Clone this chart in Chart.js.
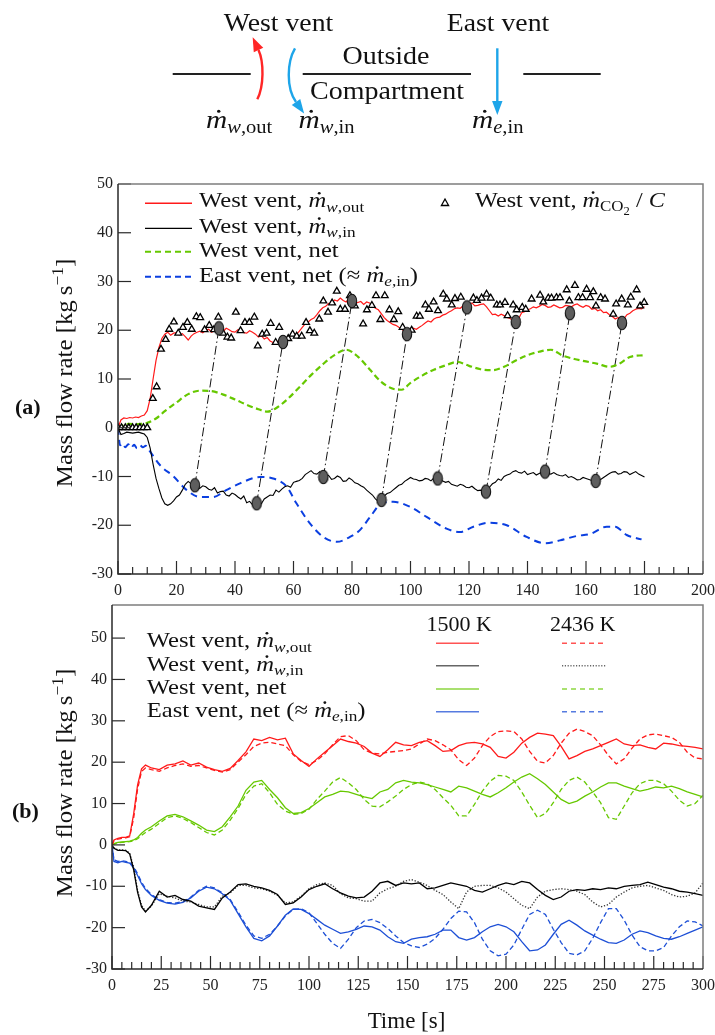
<!DOCTYPE html>
<html>
<head>
<meta charset="utf-8">
<script src="https://cdn.jsdelivr.net/npm/chart.js@4.4.1/dist/chart.umd.min.js"></script>
<style>
  html, body { margin: 0; padding: 0; background: #fff; }
  #wrap { position: relative; width: 715px; height: 1035px; overflow: hidden; background: #fff; }
  #wrap canvas { position: absolute; left: 0; }
  #cA { top: 0; }
  #cB { top: 600px; }
</style>
</head>
<body>
<div id="wrap">
  <canvas id="cA" width="715" height="600"></canvas>
  <canvas id="cB" width="715" height="435"></canvas>
</div>
<script>
// ---------- Panel (a): measured vent flows, 0-180 s (1 s samples) ----------
const tA = [0,1,2,3,4,5,6,7,8,9,10,11,12,13,14,15,16,17,18,19,
  20,21,22,23,24,25,26,27,28,29,30,31,32,33,34,35,36,37,38,39,
  40,41,42,43,44,45,46,47,48,49,50,51,52,53,54,55,56,57,58,59,
  60,61,62,63,64,65,66,67,68,69,70,71,72,73,74,75,76,77,78,79,
  80,81,82,83,84,85,86,87,88,89,90,91,92,93,94,95,96,97,98,99,
  100,101,102,103,104,105,106,107,108,109,110,111,112,113,114,115,116,117,118,119,
  120,121,122,123,124,125,126,127,128,129,130,131,132,133,134,135,136,137,138,139,
  140,141,142,143,144,145,146,147,148,149,150,151,152,153,154,155,156,157,158,159,
  160,161,162,163,164,165,166,167,168,169,170,171,172,173,174,175,176,177,178,179,
  180];

const westOutA = [0,1.6,2.0,1.9,2.1,2.0,2.2,2.1,2.4,2.6,3.5,6.0,10.0,13.8,16.5,18.3,19.2,19.6,19.0,19.4,
  19.5,19.0,19.3,18.7,18.0,18.8,19.3,19.6,19.8,19.5,20.0,20.2,19.6,19.9,20.3,20.0,19.8,20.4,20.1,19.7,
  19.6,20.1,19.9,19.5,19.4,19.9,19.6,19.2,18.6,18.9,18.2,18.5,17.8,17.5,17.4,17.9,17.6,18.3,18.6,18.9,
  19.3,19.1,19.8,20.6,21.3,21.7,22.2,22.5,23.2,24.0,24.6,24.9,25.5,25.3,26.2,26.0,26.6,26.1,25.8,26.5,
  26.2,25.5,25.7,25.9,25.3,25.8,25.6,25.0,24.5,24.2,23.4,22.6,22.0,21.6,21.2,21.0,20.6,20.3,19.6,19.9,
  19.8,20.4,20.2,20.6,21.0,21.5,21.9,21.7,22.3,22.6,22.7,23.1,23.3,23.7,24.0,24.4,24.6,24.5,25.0,25.2,
  25.3,25.6,25.0,25.1,25.3,25.4,24.8,24.0,23.2,23.3,22.9,23.3,23.0,22.6,22.4,22.1,22.0,22.4,23.6,23.8,
  24.2,24.4,24.8,24.6,24.9,25.3,25.1,24.7,24.8,25.2,24.9,24.6,24.7,25.1,25.0,24.8,25.2,25.4,25.0,24.7,
  25.1,24.9,24.3,24.5,24.0,24.2,23.6,23.7,23.2,22.8,22.3,22.6,21.9,22.4,23.2,23.5,24.0,24.3,24.5,24.4,
  24.8];

const westInA = [0,-1.4,-1.2,-0.9,-1.0,-1.1,-1.0,-0.9,-1.1,-1.3,-2.0,-4.2,-7.5,-10.4,-12.5,-14.4,-15.6,-15.9,-15.6,-15.0,
  -14.2,-13.8,-12.8,-11.6,-11.0,-11.5,-11.8,-12.5,-12.4,-11.9,-12.1,-12.6,-12.8,-12.3,-13.4,-13.1,-13.0,-13.8,-14.0,-13.4,
  -13.7,-14.2,-14.6,-14.0,-15.4,-15.1,-15.8,-15.5,-15.2,-15.6,-14.6,-14.2,-13.8,-13.9,-12.8,-13.2,-12.6,-12.1,-11.9,-12.2,
  -11.2,-11.0,-10.8,-10.4,-9.6,-9.2,-8.8,-9.4,-9.5,-9.0,-10.1,-9.6,-9.8,-10.6,-10.4,-9.9,-10.2,-11.0,-10.9,-10.3,
  -10.7,-11.3,-11.5,-11.9,-12.2,-12.8,-13.3,-13.8,-14.6,-15.1,-14.8,-14.0,-13.5,-13.3,-12.8,-12.3,-11.8,-11.6,-11.0,-10.6,
  -10.2,-10.5,-10.6,-10.9,-10.8,-10.4,-10.5,-10.9,-10.3,-10.4,-10.6,-10.9,-11.2,-11.0,-11.6,-11.8,-12.0,-11.6,-11.8,-12.2,
  -12.3,-12.0,-12.5,-12.9,-12.8,-13.2,-13.1,-12.2,-11.5,-11.2,-10.5,-10.8,-10.0,-9.7,-9.5,-9.0,-8.8,-9.2,-9.3,-8.9,
  -9.6,-9.4,-9.2,-9.7,-9.4,-9.1,-9.0,-9.4,-9.5,-9.2,-9.6,-9.8,-9.9,-9.6,-10.2,-10.0,-10.3,-10.7,-10.6,-10.2,
  -10.4,-10.6,-10.8,-11.0,-10.9,-10.6,-10.2,-9.8,-9.4,-9.1,-9.0,-9.5,-9.4,-9.0,-9.1,-9.6,-9.3,-9.0,-9.5,-9.8,
  -10.1];

const tNetWestA = [0,2,4,6,8,10,13,16,20,24,28,32,36,40,44,48,51,54,58,62,66,70,74,78,82,86,90,94,97,
  100,104,108,112,116,120,124,128,132,136,140,144,148,152,156,160,164,168,171,175,180];
const netWestA = [0,0.6,0.8,0.7,0.8,1.0,1.9,3.4,5.2,6.9,7.6,7.5,6.8,5.8,4.7,3.8,3.3,4.0,5.9,8.3,10.8,13.0,14.9,16.0,14.6,12.0,9.4,8.0,7.8,
  9.2,10.7,11.9,12.8,13.5,12.7,12.0,11.8,12.5,13.8,14.9,15.6,16.0,14.8,14.1,13.6,13.1,12.5,13.0,14.5,14.9];

const tNetEastA = [0,0.7,1.5,2.5,3.5,4.5,5.5,6.5,7.5,8.5,9.5,11,14.4,19,23.5,28,32.5,37,41.7,48.5,53,57.7,61,65.6,70.2,74.8,79.3,
  82.7,86.2,90.1,94.1,99.8,105.5,112.3,116.9,121.5,126.6,132.9,139.7,146,151.1,156.8,161.4,167.1,169.9,173.9,179];
const netEastA = [0,-3.6,-3.2,-4.0,-3.4,-4.1,-3.5,-4.2,-3.6,-4.0,-3.7,-4.9,-7.7,-10.0,-12.8,-14.2,-14.2,-12.8,-11.4,-10.1,-10.4,-12.1,-15.5,-19.6,-22.4,-23.4,-22.4,
  -21.0,-18.3,-15.5,-15.2,-16.2,-18.3,-20.7,-21.4,-20.3,-19.5,-20.0,-22.4,-23.7,-23.1,-22.2,-21.8,-20.3,-20.3,-22.0,-22.9];

// CO2-based estimate of the west-vent outflow
const tCO2 = [0,1.2,2.5,3.7,5,6.2,7.5,8.7,10,
  11.9,13.2,14.7,16.3,17.5,19.1,20.6,22.2,23.7,25.2,
  26.8,28.1,29.6,31.2,32.8,34.3,35.9,37.4,38.7,40.3,
  41.9,43.4,44.9,46.6,47.8,49.3,50.8,52.2,53.9,55.1,
  58.2,59.7,61.1,62.8,64.3,65.6,67.1,68.8,70.2,71.8,
  73.2,74.8,76.0,77.6,79.3,81.0,83.8,85.1,86.8,88.2,
  89.7,91.2,92.8,94.3,95.8,97.3,100.4,102.1,103.2,105.1,
  106.3,107.9,109.4,111.2,112.4,114.1,115.2,117.2,121.5,122.7,
  124.3,126.0,127.4,129.5,130.6,132.3,133.2,135.1,136.3,138.2,
  139.4,141.4,144.3,145.4,147.1,148.2,149.9,151.1,153.4,154.3,
  156.2,157.4,158.8,160.2,161.4,162.5,163.4,165.0,166.5,169.3,
  170.3,172.2,174.3,175.3,177.3,178.5,179.9];
const vCO2 = [0,0,0,0,0,0,0,0,0,
  6.0,8.4,16.1,18.1,20.2,21.7,19.4,20.6,21.6,20.2,
  22.8,22.6,20.1,21.0,20.1,22.7,19.4,18.6,18.4,23.7,
  19.9,21.6,21.6,22.7,16.8,19.2,19.4,21.4,17.5,20.6,
  18.3,19.2,18.8,18.8,21.6,19.9,19.4,22.3,26.0,23.7,
  25.6,28.0,24.3,24.3,27.1,25.0,21.3,24.2,25.1,27.1,
  22.2,27.1,24.2,22.2,23.8,20.6,20.0,22.9,22.9,25.2,
  24.3,25.8,24.0,27.4,26.4,25.2,26.5,26.8,26.6,26.1,
  26.6,27.4,26.6,25.2,25.2,25.7,23.0,25.2,24.2,24.7,
  24.3,26.4,27.2,25.8,26.6,26.6,26.7,26.7,28.3,26.0,
  29.2,26.7,26.7,28.4,26.7,27.9,25.0,26.7,26.4,23.3,
  25.4,26.4,25.2,26.8,28.3,25.0,25.7];

// Matched extrema: inflow event (lower) and the corresponding outflow event (upper)
const linkLowT = [26.3,47.4,70.2,90.1,109.3,125.8,146.0,163.3];
const linkLowV = [-11.8,-15.5,-10.1,-14.8,-10.4,-13.1,-9.0,-10.9];
const linkUpT  = [34.5,56.4,80.0,98.8,119.3,136.0,154.5,172.3];
const linkUpV  = [20.4,17.6,26.0,19.2,24.7,21.7,23.5,21.5];

// ---------- Panel (b): two fire temperatures, 0-300 s ----------
const tB = [0,1,3,5,7,9,11,13,15,17, 20,24,28,32,36,40,44,48,52,56,
  60,64,68,72,76,80,84,88,92,96, 100,104,108,112,116,120,124,128,132,136,
  140,144,148,152,156,160,164,168,172,176, 180,184,188,192,196,200,204,208,212,216,
  220,224,228,232,236,240,244,248,252,256, 260,264,268,272,276,280,284,288,292,296, 300];

const westOut1500 = [0,1.2,1.6,1.8,1.8,2.2,7.5,14.5,18.4,19.3,
  18.6,18.2,19.3,19.6,20.3,19.3,19.8,18.8,18.2,17.8,
  18.5,20.4,22.5,25.6,25.2,26.0,25.4,25.8,22.0,20.4,
  19.0,20.8,22.4,24.0,25.6,25.0,24.6,23.8,22.2,21.4,
  23.0,24.8,24.2,24.0,24.8,25.2,24.0,22.6,22.8,24.0,
  24.6,24.8,24.4,23.6,21.4,21.0,22.4,24.6,26.0,27.0,
  26.8,26.4,23.8,20.8,21.6,22.6,23.2,24.0,24.8,25.6,
  24.4,24.0,24.2,23.6,23.2,24.6,24.4,24.0,23.8,23.6, 23.2];
const westOut2436 = [0,1.0,1.4,1.6,1.7,2.0,6.5,13.5,17.8,18.6,
  18.2,17.8,18.6,19.2,19.6,19.0,19.2,18.6,18.0,17.6,
  18.2,20.0,21.8,23.8,24.6,24.8,24.4,24.0,21.8,20.2,
  19.4,20.4,22.0,24.2,26.2,26.4,25.2,23.0,22.2,22.0,
  22.4,22.6,22.8,23.2,24.4,25.6,25.2,24.2,23.0,20.6,
  19.2,21.0,24.0,26.2,27.4,27.6,27.4,25.6,22.6,20.2,
  19.8,21.6,24.6,27.0,28.0,27.4,26.4,24.2,21.6,19.6,
  20.8,23.4,25.6,26.6,26.8,26.4,26.0,24.8,22.4,21.0, 20.8];
const westIn1500 = [0,-0.8,-1.3,-1.3,-1.4,-2.2,-6.0,-11.5,-15.0,-16.2,
  -14.6,-11.2,-12.6,-12.2,-13.2,-13.6,-14.8,-15.2,-15.6,-12.8,
  -11.4,-9.6,-9.4,-10.0,-10.4,-11.0,-12.0,-14.4,-14.0,-12.6,
  -10.8,-10.0,-9.4,-10.6,-11.6,-12.4,-12.8,-12.6,-11.2,-9.2,
  -8.8,-9.8,-9.2,-9.4,-9.2,-10.6,-10.4,-9.8,-9.2,-9.6,
  -10.0,-11.0,-11.4,-10.6,-9.8,-9.2,-9.6,-8.8,-9.2,-10.8,
  -12.2,-13.2,-12.6,-11.2,-10.8,-11.0,-10.6,-10.8,-10.4,-10.6,
  -10.0,-9.8,-9.6,-9.0,-9.6,-10.2,-10.6,-11.2,-11.4,-11.8, -12.2];
const westIn2436 = [0,-0.7,-1.2,-1.2,-1.3,-2.0,-5.5,-11.0,-14.6,-16.0,
  -14.8,-11.8,-12.4,-12.8,-13.6,-13.8,-14.4,-15.0,-15.0,-12.4,
  -11.6,-9.8,-9.8,-10.4,-10.6,-11.2,-12.2,-14.0,-13.8,-12.4,
  -10.6,-9.6,-9.2,-9.8,-11.8,-12.8,-13.0,-13.6,-13.6,-11.6,
  -10.6,-10.0,-8.8,-8.4,-9.0,-9.8,-11.0,-12.0,-13.8,-15.4,
  -11.4,-10.0,-9.8,-9.8,-10.4,-11.4,-13.0,-14.6,-15.4,-12.6,
  -11.2,-10.8,-10.6,-10.8,-11.2,-12.0,-13.8,-15.0,-14.4,-12.6,
  -11.4,-10.4,-10.0,-9.8,-10.4,-11.0,-12.0,-12.6,-12.4,-11.6, -9.2];
const netWest1500 = [0,0.3,0.6,0.7,0.8,0.9,1.2,1.8,2.8,3.6,
  4.4,5.8,7.0,7.4,6.8,5.8,4.8,3.6,3.2,4.4,
  6.8,9.4,13.2,15.2,15.6,13.4,11.4,9.0,7.6,7.8,
  8.8,10.2,11.6,12.2,13.0,12.8,12.2,11.6,11.2,12.8,
  13.4,15.0,15.6,15.2,15.0,14.6,14.0,13.4,12.8,14.2,
  13.8,13.0,12.2,11.6,12.6,13.8,15.2,16.4,17.2,16.0,
  14.6,12.8,11.0,10.0,10.6,11.8,12.8,14.0,15.0,15.0,
  14.2,13.6,13.0,13.4,14.0,13.8,14.2,13.6,12.8,12.2, 11.6];
const netWest2436 = [0,0.2,0.5,0.6,0.7,0.8,1.0,1.5,2.3,3.0,
  3.8,5.2,6.6,7.0,6.4,5.4,4.2,3.0,2.4,3.6,
  6.0,8.8,12.2,14.2,14.8,12.6,9.8,8.2,7.4,7.6,
  8.6,11.0,13.0,15.2,16.3,15.0,13.4,11.0,9.4,9.2,
  10.4,11.8,13.4,14.6,15.2,14.8,13.4,11.4,9.6,7.0,
  7.0,9.8,13.0,15.4,16.8,16.6,15.6,12.8,9.6,6.6,
  7.6,10.2,13.4,15.6,16.4,15.2,12.8,10.2,6.6,6.2,
  9.4,12.6,14.8,15.6,15.6,14.8,13.0,10.8,9.4,10.0, 12.0];
const netEast1500 = [0,-4.0,-4.3,-4.0,-4.2,-4.4,-5.6,-7.4,-9.4,-10.8,
  -12.2,-13.4,-14.1,-14.3,-13.9,-12.8,-11.2,-10.2,-10.6,-11.8,
  -13.4,-16.6,-19.8,-22.6,-23.2,-22.0,-19.6,-17.0,-15.5,-15.6,
  -16.6,-18.0,-19.4,-20.4,-21.4,-21.0,-20.4,-19.6,-19.8,-20.6,
  -22.2,-23.4,-23.8,-22.8,-22.4,-22.2,-21.6,-20.6,-20.6,-22.4,
  -23.0,-22.4,-21.0,-19.8,-19.2,-19.8,-21.0,-23.4,-25.6,-25.4,
  -24.2,-21.6,-19.2,-18.2,-19.4,-20.8,-21.8,-22.8,-23.6,-23.8,
  -23.0,-21.6,-20.8,-21.2,-22.0,-22.6,-22.8,-22.2,-21.4,-20.6, -19.8];
const netEast2436 = [0,-3.6,-4.0,-3.8,-4.0,-4.2,-5.2,-7.0,-9.0,-10.5,
  -12.0,-13.2,-13.9,-14.1,-13.7,-12.6,-11.0,-10.0,-10.4,-11.6,
  -13.2,-16.2,-19.4,-22.0,-22.6,-21.6,-19.6,-17.2,-15.6,-15.4,
  -16.4,-19.0,-21.6,-23.8,-25.0,-22.8,-20.0,-18.4,-18.0,-18.8,
  -20.2,-22.0,-23.6,-24.4,-24.8,-24.0,-22.6,-20.4,-17.8,-16.0,
  -16.2,-18.8,-22.8,-25.6,-26.8,-26.4,-24.2,-20.4,-16.8,-15.8,
  -16.8,-20.4,-23.6,-26.2,-26.6,-25.6,-22.6,-18.8,-15.4,-15.4,
  -18.2,-21.8,-24.6,-25.6,-25.6,-24.8,-22.0,-19.8,-18.4,-18.6, -19.6];

// Axis tick settings
const ticksA = { xMax: 200, xStep: 20, xMinor: 5, yMin: -30, yMax: 50, yStep: 10 };
const ticksB = { xMax: 300, xStep: 25, xMinor: 5, yMin: -30, yMax: 58, yStep: 10 };

// ---------- colours & fonts ----------
const RED = '#ff1a1a', BLACK = '#000000', GREEN = '#66c800', BLUE_A = '#0b3fe0', BLUE_B = '#1d4fd6';
const SKY = '#1ea5e9';
const SERIF = '"Liberation Serif", "Times New Roman", serif';

const pts = (t, v) => t.map((x, i) => ({ x, y: v[i] }));

// ---------- rich text (italic, sub/superscripts, dotted m), with horizontal stretch ----------
function layoutRich(ctx, segs, size, x, y, draw) {
  let cx = x;
  for (const s of segs) {
    let fs = size, dy = 0;
    if (s.sub) { fs = size * 0.7; dy = size * 0.2; }
    if (s.sub2) { fs = size * 0.52; dy = size * 0.36; }
    if (s.sup) { fs = size * 0.7; dy = -size * 0.4; }
    ctx.font = (s.i ? 'italic ' : '') + (s.b ? 'bold ' : '') + fs + 'px ' + SERIF;
    const w = ctx.measureText(s.t).width;
    if (draw) {
      ctx.fillText(s.t, cx, y + dy);
      if (s.dot) {
        ctx.beginPath();
        ctx.arc(cx + w * 0.6, y + dy - fs * 0.64, fs * 0.058, 0, Math.PI * 2);
        ctx.fill();
      }
    }
    cx += w + (s.k || 0);
  }
  return cx - x;
}
function drawRich(ctx, segs, size, x, y, align, sx) {
  sx = sx || 1;
  ctx.save();
  ctx.textAlign = 'left';
  ctx.textBaseline = 'alphabetic';
  const w = layoutRich(ctx, segs, size, 0, 0, false) * sx;
  const x0 = align === 'center' ? x - w / 2 : (align === 'right' ? x - w : x);
  ctx.translate(x0, y);
  ctx.scale(sx, 1);
  layoutRich(ctx, segs, size, 0, 0, true);
  ctx.restore();
}
const T = (t, o) => Object.assign({ t }, o || {});
const MDOT = () => T('m', { i: 1, dot: 1 });

const segWOut = [T('West vent, '), MDOT(), T('w', { i: 1, sub: 1 }), T(',out', { sub: 1 })];
const segWIn  = [T('West vent, '), MDOT(), T('w', { i: 1, sub: 1 }), T(',in', { sub: 1 })];
const segWNet = [T('West vent, net')];
const segENet = [T('East vent, net (\u2248 '), MDOT(), T('e', { i: 1, sub: 1 }), T(',in', { sub: 1 }), T(')')];
const segCO2  = [T('West vent, '), MDOT(), T('CO', { sub: 1 }), T('2', { sub2: 1 }), T(' / '), T('C', { i: 1 })];
const segYTitle = [T('Mass flow rate [kg\u2009s'), T('\u22121', { sup: 1 }), T(']')];

const LEG_SIZE = 22, LEG_SX = 1.12;

function yTitle(ctx, cy) {
  ctx.save();
  ctx.fillStyle = '#111';
  ctx.translate(72, cy);
  ctx.rotate(-Math.PI / 2);
  drawRich(ctx, segYTitle, 23, 0, 0, 'center', 1.08);
  ctx.restore();
}
function panelTag(ctx, txt, x, y) {
  ctx.save();
  ctx.fillStyle = '#111';
  ctx.font = 'bold 22px ' + SERIF;
  ctx.textAlign = 'left';
  ctx.textBaseline = 'alphabetic';
  ctx.fillText(txt, x, y);
  ctx.restore();
}
function sampleLine(ctx, x0, x1, y, color, dash, lw) {
  ctx.save();
  ctx.strokeStyle = color;
  ctx.lineWidth = lw;
  ctx.setLineDash(dash);
  ctx.beginPath();
  ctx.moveTo(x0, y);
  ctx.lineTo(x1, y);
  ctx.stroke();
  ctx.restore();
}

// ---------- vent schematic ----------
function arrowCurve(ctx, p0, c1, c2, p1, color) {
  ctx.strokeStyle = color; ctx.fillStyle = color; ctx.lineWidth = 2.4;
  ctx.beginPath();
  ctx.moveTo(p0[0], p0[1]);
  ctx.bezierCurveTo(c1[0], c1[1], c2[0], c2[1], p1[0], p1[1]);
  ctx.stroke();
  const dx = p1[0] - c2[0], dy = p1[1] - c2[1], L = Math.hypot(dx, dy);
  const ux = dx / L, uy = dy / L, hl = 14, hw = 5.2;
  const tip = [p1[0] + ux * hl, p1[1] + uy * hl];
  ctx.beginPath();
  ctx.moveTo(tip[0], tip[1]);
  ctx.lineTo(p1[0] - uy * hw, p1[1] + ux * hw);
  ctx.lineTo(p1[0] + uy * hw, p1[1] - ux * hw);
  ctx.closePath();
  ctx.fill();
}
function drawSchematic(ctx) {
  ctx.save();
  ctx.fillStyle = '#111';
  drawRich(ctx, [T('West vent')], 25, 278.5, 31, 'center', 1.11);
  drawRich(ctx, [T('East vent')], 25, 498, 31, 'center', 1.11);
  drawRich(ctx, [T('Outside')], 25, 386, 64, 'center', 1.12);
  drawRich(ctx, [T('Compartment')], 25, 387, 99, 'center', 1.12);
  ctx.strokeStyle = '#222';
  ctx.lineWidth = 2;
  [[172.7, 250.7], [302.7, 471], [523.3, 600.7]].forEach(([a, b]) => {
    ctx.beginPath(); ctx.moveTo(a, 74); ctx.lineTo(b, 74); ctx.stroke();
  });
  arrowCurve(ctx, [257.3, 99.3], [264, 86], [264, 62], [258.5, 50], '#ff2626');
  arrowCurve(ctx, [295, 48.3], [287, 62], [286, 88], [296, 102], SKY);
  arrowCurve(ctx, [497.3, 48.3], [497.3, 65], [497.3, 85], [497.3, 101], SKY);
  ctx.fillStyle = '#111';
  drawRich(ctx, [MDOT(), T('w', { i: 1, sub: 1 }), T(',out', { sub: 1 })], 26, 206, 128, 'left', 1.13);
  drawRich(ctx, [MDOT(), T('w', { i: 1, sub: 1 }), T(',in', { sub: 1 })], 26, 298.5, 128, 'left', 1.13);
  drawRich(ctx, [MDOT(), T('e', { i: 1, sub: 1 }), T(',in', { sub: 1 })], 26, 472, 128, 'left', 1.13);
  ctx.restore();
}

// ---------- shared frame / inward ticks ----------
const frameTicks = {
  id: 'frameTicks',
  afterDatasetsDraw(chart, _args, o) {
    const { ctx, chartArea: a } = chart;
    const x = chart.scales.x, y = chart.scales.y;
    ctx.save();
    ctx.strokeStyle = '#2a2a2a';
    ctx.lineWidth = 1.2;
    for (let v = x.min; v <= x.max + 1e-6; v += o.minor) {
      const px = x.getPixelForValue(v);
      const major = Math.abs(v / o.major - Math.round(v / o.major)) < 1e-6;
      ctx.beginPath(); ctx.moveTo(px, a.bottom); ctx.lineTo(px, a.bottom - (major ? 13 : 7)); ctx.stroke();
    }
    y.ticks.forEach(t => {
      const py = y.getPixelForValue(t.value);
      ctx.beginPath(); ctx.moveTo(a.left, py); ctx.lineTo(a.left + 13, py); ctx.stroke();
    });
    ctx.lineWidth = 1.5;
    ctx.strokeStyle = '#7d7d7d';
    ctx.beginPath(); ctx.moveTo(a.left, a.top); ctx.lineTo(a.right, a.top); ctx.lineTo(a.right, a.bottom); ctx.stroke();
    ctx.strokeStyle = '#2a2a2a';
    ctx.beginPath(); ctx.moveTo(a.left, a.top); ctx.lineTo(a.left, a.bottom); ctx.lineTo(a.right, a.bottom); ctx.stroke();
    ctx.restore();
  }
};

function scalesFor(tk, yWidth, xHeight) {
  const font = { family: SERIF, size: 16 };
  return {
    x: {
      type: 'linear', min: 0, max: tk.xMax,
      grid: { display: false, drawTicks: false }, border: { display: false },
      ticks: { stepSize: tk.xStep, font, color: '#222', padding: 7, autoSkip: false, maxRotation: 0 },
      afterFit(s) { s.height = xHeight; s.paddingLeft = 0; s.paddingRight = 0; }
    },
    y: {
      type: 'linear', min: tk.yMin, max: tk.yMax,
      grid: { display: false, drawTicks: false }, border: { display: false },
      ticks: { stepSize: tk.yStep, font, color: '#222', padding: 5 },
      afterBuildTicks(s) { s.ticks = s.ticks.filter(t => Math.abs(t.value % tk.yStep) < 1e-6); },
      afterFit(s) { s.width = yWidth; s.paddingTop = 0; s.paddingBottom = 0; }
    }
  };
}

// ellipse marker for matched extrema
const ellipseImg = document.createElement('canvas');
ellipseImg.width = 12; ellipseImg.height = 16;
(() => {
  const g = ellipseImg.getContext('2d');
  g.beginPath();
  g.ellipse(6, 8, 4.7, 6.7, 0, 0, Math.PI * 2);
  g.fillStyle = '#5e5e5e';
  g.fill();
  g.lineWidth = 1.1;
  g.strokeStyle = '#111';
  g.stroke();
})();

const linkSegments = [];
linkLowT.forEach((t, i) => {
  linkSegments.push({ x: t, y: linkLowV[i] }, { x: linkUpT[i], y: linkUpV[i] }, { x: linkUpT[i], y: null });
});
const linkMarks = pts(linkUpT, linkUpV).concat(pts(linkLowT, linkLowV));

const lineDefaults = { pointRadius: 0, fill: false, tension: 0 };

// ---------- chart (a) ----------
const panelAText = {
  id: 'panelAText',
  afterDraw(chart) {
    const ctx = chart.ctx;
    drawSchematic(ctx);
    ctx.save();
    const rowsA = [
      { segs: segWOut, color: RED, dash: [], lw: 1.4, ly: 203.3, by: 207.3 },
      { segs: segWIn, color: BLACK, dash: [], lw: 1.2, ly: 228.3, by: 232.7 },
      { segs: segWNet, color: GREEN, dash: [6, 4], lw: 2, ly: 251.7, by: 257.3 },
      { segs: segENet, color: BLUE_A, dash: [6, 4], lw: 2, ly: 276.7, by: 281.7 }
    ];
    rowsA.forEach(r => {
      sampleLine(ctx, 145, 192, r.ly, r.color, r.dash, r.lw);
      ctx.fillStyle = '#111';
      drawRich(ctx, r.segs, LEG_SIZE, 199, r.by, 'left', LEG_SX);
    });
    // triangle marker entry
    ctx.beginPath();
    ctx.moveTo(445, 199); ctx.lineTo(448.6, 205.5); ctx.lineTo(441.4, 205.5); ctx.closePath();
    ctx.fillStyle = '#fff'; ctx.fill();
    ctx.lineWidth = 1.3; ctx.strokeStyle = '#000'; ctx.stroke();
    ctx.fillStyle = '#111';
    drawRich(ctx, segCO2, LEG_SIZE, 475, 206.7, 'left', 1.1);
    ctx.restore();
    yTitle(ctx, 373);
    panelTag(ctx, '(a)', 15, 414);
  }
};

new Chart(document.getElementById('cA'), {
  type: 'line',
  data: {
    datasets: [
      { label: 'matched extrema', data: linkMarks, showLine: false, pointStyle: ellipseImg, pointRadius: 6 },
      { label: 'West vent, CO2 estimate', data: pts(tCO2, vCO2), showLine: false, pointStyle: 'triangle',
        pointRadius: 3.9, pointBorderWidth: 1.3, pointBackgroundColor: '#fff', pointBorderColor: '#000' },
      Object.assign({ label: 'West vent, out', data: pts(tA, westOutA), borderColor: RED, borderWidth: 1.2 }, lineDefaults),
      Object.assign({ label: 'West vent, in', data: pts(tA, westInA), borderColor: BLACK, borderWidth: 1.1 }, lineDefaults),
      Object.assign({ label: 'West vent, net', data: pts(tNetWestA, netWestA), borderColor: GREEN, borderWidth: 2.2,
        borderDash: [6, 3.5], cubicInterpolationMode: 'monotone' }, lineDefaults),
      Object.assign({ label: 'East vent, net', data: pts(tNetEastA, netEastA), borderColor: BLUE_A, borderWidth: 2,
        borderDash: [7, 5], cubicInterpolationMode: 'monotone' }, lineDefaults),
      Object.assign({ label: 'links', data: linkSegments, borderColor: '#111', borderWidth: 1,
        borderDash: [9, 3, 1.5, 3], spanGaps: false }, lineDefaults)
    ]
  },
  options: {
    responsive: false, animation: false, devicePixelRatio: 1,
    layout: { padding: { top: 184, right: 12, bottom: 0, left: 0 } },
    scales: scalesFor(ticksA, 118, 26),
    plugins: { legend: { display: false }, tooltip: { enabled: false },
      frameTicks: { major: ticksA.xStep, minor: ticksA.xMinor } }
  },
  plugins: [frameTicks, panelAText]
});

// ---------- chart (b) ----------
const panelBText = {
  id: 'panelBText',
  afterDraw(chart) {
    const ctx = chart.ctx;
    ctx.save();
    ctx.fillStyle = '#111';
    ctx.font = '22px ' + SERIF;
    ctx.textAlign = 'left';
    ctx.textBaseline = 'alphabetic';
    ctx.fillText('1500 K', 426.5, 30.7);
    ctx.fillText('2436 K', 550, 30.7);
    const rowsB = [
      { segs: segWOut, color: RED, dash2: [5, 4], c2: RED, by: 47.3, ly: 43.3 },
      { segs: segWIn, color: '#333', dash2: [1.2, 1.6], c2: '#333', by: 70.7, ly: 65.7 },
      { segs: segWNet, color: GREEN, dash2: [5, 4], c2: GREEN, by: 94, ly: 89 },
      { segs: segENet, color: BLUE_B, dash2: [5, 4], c2: BLUE_B, by: 116.7, ly: 111.7 }
    ];
    rowsB.forEach(r => {
      ctx.fillStyle = '#111';
      drawRich(ctx, r.segs, LEG_SIZE, 146.7, r.by, 'left', LEG_SX);
      ctx.globalAlpha = 0.75;
      sampleLine(ctx, 436, 479, r.ly, r.color, [], 1.6);
      sampleLine(ctx, 562, 606, r.ly, r.c2, r.dash2, 1.6);
      ctx.globalAlpha = 1;
    });
    drawRich(ctx, [T('Time [s]')], 23, 406.5, 428, 'center', 1.0);
    ctx.restore();
    yTitle(ctx, 183);
    panelTag(ctx, '(b)', 12, 218);
  }
};

const solidB = (label, v, color) => Object.assign({ label, data: pts(tB, v), borderColor: color, borderWidth: 1.3 }, lineDefaults);
const dashB = (label, v, color, dash) => Object.assign({ label, data: pts(tB, v), borderColor: color, borderWidth: 1.3, borderDash: dash }, lineDefaults);

new Chart(document.getElementById('cB'), {
  type: 'line',
  data: {
    datasets: [
      solidB('West vent, out (1500 K)', westOut1500, RED),
      dashB('West vent, out (2436 K)', westOut2436, RED, [5, 3]),
      solidB('West vent, net (1500 K)', netWest1500, GREEN),
      dashB('West vent, net (2436 K)', netWest2436, GREEN, [5, 3]),
      solidB('West vent, in (1500 K)', westIn1500, BLACK),
      dashB('West vent, in (2436 K)', westIn2436, '#333', [1.3, 1.7]),
      solidB('East vent, net (1500 K)', netEast1500, BLUE_B),
      dashB('East vent, net (2436 K)', netEast2436, BLUE_B, [5, 3])
    ]
  },
  options: {
    responsive: false, animation: false, devicePixelRatio: 1,
    layout: { padding: { top: 5, right: 12, bottom: 0, left: 0 } },
    scales: scalesFor(ticksB, 112, 66),
    plugins: { legend: { display: false }, tooltip: { enabled: false },
      frameTicks: { major: ticksB.xStep, minor: ticksB.xMinor } }
  },
  plugins: [frameTicks, panelBText]
});
</script>
</body>
</html>
